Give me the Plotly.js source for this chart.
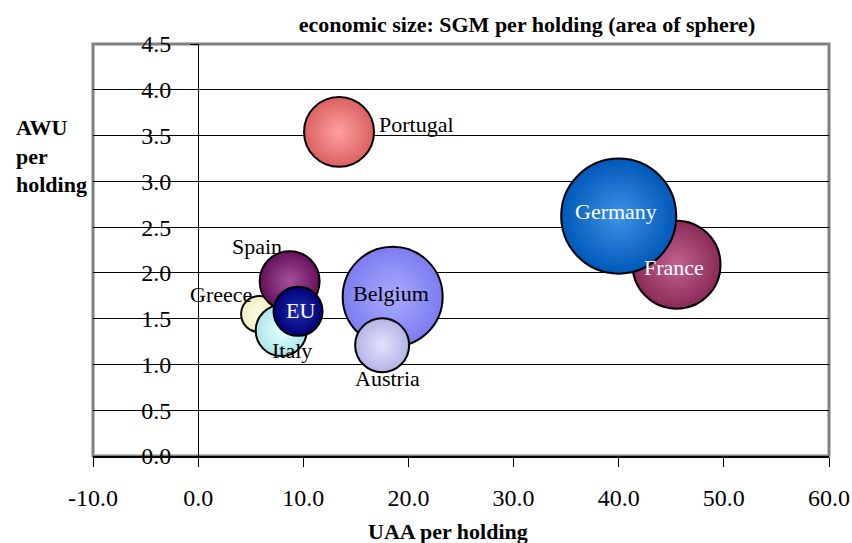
<!DOCTYPE html>
<html>
<head>
<meta charset="utf-8">
<script src="https://cdn.plot.ly/plotly-3.0.1.min.js"></script>
<style>html,body{margin:0;padding:0;background:#fff;}#chart{width:852px;height:543px;}</style>
</head>
<body>
<div id="chart"></div>
<script>
// ---- data ----
var countries = ["France", "Germany", "Belgium", "Austria", "Portugal", "Greece", "Spain", "Italy", "EU"];
var uaaPerHolding = [45.5, 40.0, 18.5, 17.5, 13.4, 5.8, 8.7, 7.9, 9.5];
var awuPerHolding = [2.09, 2.62, 1.74, 1.21, 3.54, 1.55, 1.91, 1.37, 1.58];
var sgmPerHolding = [35.1, 60.0, 45.3, 13.2, 22.2, 5.9, 16.3, 11.8, 10.9];
var xTickVals = [-10, 0, 10, 20, 30, 40, 50, 60];
var xTickText = ["-10.0", "0.0", "10.0", "20.0", "30.0", "40.0", "50.0", "60.0"];
var yTickVals = [0, 0.5, 1, 1.5, 2, 2.5, 3, 3.5, 4, 4.5];
var yTickText = ["0.0", "0.5", "1.0", "1.5", "2.0", "2.5", "3.0", "3.5", "4.0", "4.5"];

// ---- styles ----
var edgeColors = ["#8A2A58", "#0058B8", "#7C7CF0", "#B4B4E6", "#DC6060", "#F2EDBE", "#66105C", "#AEE6E6", "#00007A"];
var centerColors = ["#C2638E", "#3F92E6", "#ABABFF", "#E2E2FF", "#FFA0A0", "#FFFFE8", "#A5509A", "#E4FFFF", "#2030A8"];
var labelColors = ["#fff", "#fff", "#000", "#000", "#000", "#000", "#000", "#000", "#fff"];
var labelXShift = [-3, -3, -2, 5, 38, -38, -33, 11, 2];
var labelYShift = [-3, 5, 3, -33, 7, 20, 35, -20, 1];
var labelAnchor = ["center", "center", "center", "center", "left", "center", "center", "center", "center"];

var serif = "Liberation Serif, Times New Roman, serif";

var trace = {
  type: "scatter",
  mode: "markers",
  x: uaaPerHolding,
  y: awuPerHolding,
  text: countries,
  hoverinfo: "none",
  marker: {
    size: sgmPerHolding,
    sizemode: "area",
    sizeref: 2 / (14.85 * 14.85),
    color: edgeColors,
    gradient: {type: "radial", color: centerColors},
    line: {color: "#000", width: 2},
    opacity: 1
  },
  cliponaxis: false,
  showlegend: false
};

var annotations = countries.map(function (c, i) {
  return {
    x: uaaPerHolding[i], y: awuPerHolding[i], xref: "x", yref: "y",
    text: c, showarrow: false,
    xanchor: labelAnchor[i], yanchor: "middle",
    xshift: labelXShift[i], yshift: labelYShift[i],
    font: {family: serif, size: 22, color: labelColors[i]}
  };
});

annotations.push({
  xref: "paper", yref: "paper", x: -0.1073, y: 0.728,
  xanchor: "left", yanchor: "middle", align: "left", showarrow: false,
  text: "<b>AWU<br>per<br>holding</b>",
  font: {family: serif, size: 22, color: "#000"}
});
annotations.push({
  xref: "paper", yref: "paper", x: 0.4817, y: -0.184,
  xanchor: "center", yanchor: "middle", showarrow: false,
  text: "<b>UAA per holding</b>",
  font: {family: serif, size: 22, color: "#000"}
});

var layout = {
  width: 852, height: 543,
  margin: {l: 93, r: 23, t: 44, b: 87, pad: 0},
  paper_bgcolor: "#fff", plot_bgcolor: "#fff",
  hovermode: false,
  title: {
    text: "<b>economic size: SGM per holding (area of sphere)</b>",
    font: {family: serif, size: 22, color: "#000"},
    xref: "container", yref: "container",
    x: 527 / 852, xanchor: "center", y: 1 - 24 / 543, yanchor: "middle"
  },
  xaxis: {
    range: [-10, 60], tickvals: xTickVals, ticktext: xTickText,
    showgrid: false, zeroline: false,
    showline: true, linecolor: "#000", linewidth: 2,
    ticks: "outside", ticklen: 9, tickcolor: "#000", tickwidth: 1,
    ticklabelstandoff: 10,
    tickfont: {family: serif, size: 24, color: "#000"},
    fixedrange: true
  },
  yaxis: {
    range: [0, 4.5], tickvals: yTickVals, ticktext: yTickText,
    anchor: "free", position: 10 / 70,
    showgrid: true, gridcolor: "#000", gridwidth: 1,
    zeroline: false,
    showline: true, linecolor: "#000", linewidth: 1,
    ticks: "outside", ticklen: 8, tickcolor: "#000", tickwidth: 1,
    ticklabelstandoff: 14,
    tickfont: {family: serif, size: 24, color: "#000"},
    fixedrange: true
  },
  shapes: [{
    type: "rect", xref: "paper", yref: "paper", x0: 0, x1: 1, y0: 0, y1: 1,
    line: {color: "#808080", width: 3}, layer: "below"
  }],
  annotations: annotations
};

Plotly.newPlot("chart", [trace], layout, {displayModeBar: false, staticPlot: true});
</script>
</body>
</html>
